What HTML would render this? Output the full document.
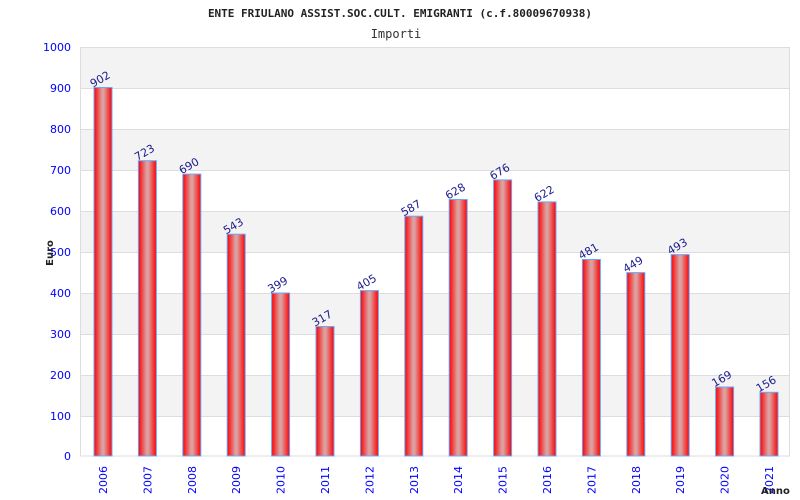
<!DOCTYPE html>
<html><head><style>body{margin:0;background:#fff}svg{display:block}</style></head><body>
<svg width="800" height="500" xmlns="http://www.w3.org/2000/svg" font-family="'DejaVu Sans','Liberation Sans',sans-serif">
<defs>
<linearGradient id="g" x1="0" x2="1" y1="0" y2="0">
<stop offset="0" stop-color="#ff0000"/><stop offset="0.45" stop-color="#dca0a0"/><stop offset="0.55" stop-color="#dca0a0"/><stop offset="1" stop-color="#ff0000"/>
</linearGradient>
</defs>
<text x="400" y="17" text-anchor="middle" font-family="'DejaVu Sans Mono','Liberation Mono',monospace" font-size="11" font-weight="bold" fill="#222">ENTE FRIULANO ASSIST.SOC.CULT. EMIGRANTI (c.f.80009670938)</text>
<text x="396" y="38" text-anchor="middle" font-family="'DejaVu Sans Mono','Liberation Mono',monospace" font-size="12" fill="#333">Importi</text>
<rect x="80.5" y="47.5" width="709" height="408.5" fill="#fff" stroke="#ddd"/>
<rect x="81" y="48" width="708" height="40.9" fill="#f3f3f3"/>
<rect x="81" y="129.8" width="708" height="40.9" fill="#f3f3f3"/>
<rect x="81" y="211.6" width="708" height="40.9" fill="#f3f3f3"/>
<rect x="81" y="293.4" width="708" height="40.9" fill="#f3f3f3"/>
<rect x="81" y="375.2" width="708" height="40.9" fill="#f3f3f3"/>
<g stroke="#ddd" stroke-width="1">
<line x1="80" x2="790" y1="88.5" y2="88.5"/><line x1="80" x2="790" y1="129.5" y2="129.5"/><line x1="80" x2="790" y1="170.5" y2="170.5"/><line x1="80" x2="790" y1="211.5" y2="211.5"/><line x1="80" x2="790" y1="252.5" y2="252.5"/><line x1="80" x2="790" y1="293.5" y2="293.5"/><line x1="80" x2="790" y1="334.5" y2="334.5"/><line x1="80" x2="790" y1="375.5" y2="375.5"/><line x1="80" x2="790" y1="416.5" y2="416.5"/>
</g>
<g font-size="11" fill="#0000ff" text-anchor="end">
<text x="71" y="51">1000</text><text x="71" y="92">900</text><text x="71" y="133">800</text><text x="71" y="174">700</text><text x="71" y="215">600</text><text x="71" y="256">500</text><text x="71" y="297">400</text><text x="71" y="338">300</text><text x="71" y="379">200</text><text x="71" y="420">100</text><text x="71" y="460">0</text>
</g>
<text transform="translate(53,253) rotate(-90)" text-anchor="middle" font-size="10" font-weight="bold" fill="#222">Euro</text>
<g stroke="#66a8ff" stroke-width="1" fill="url(#g)">
<rect x="94" y="87.5" width="18" height="368.5"/>
<rect x="138.4" y="160.7" width="18" height="295.3"/>
<rect x="182.8" y="174.1" width="18" height="281.9"/>
<rect x="227.2" y="234.2" width="18" height="221.8"/>
<rect x="271.6" y="293" width="18" height="163"/>
<rect x="316" y="326.5" width="18" height="129.5"/>
<rect x="360.4" y="290.6" width="18" height="165.4"/>
<rect x="404.8" y="216.2" width="18" height="239.8"/>
<rect x="449.2" y="199.5" width="18" height="256.5"/>
<rect x="493.6" y="179.9" width="18" height="276.1"/>
<rect x="538" y="201.9" width="18" height="254.1"/>
<rect x="582.4" y="259.5" width="18" height="196.5"/>
<rect x="626.8" y="272.6" width="18" height="183.4"/>
<rect x="671.2" y="254.6" width="18" height="201.4"/>
<rect x="715.6" y="387" width="18" height="69"/>
<rect x="760" y="392.3" width="18" height="63.7"/>
</g>
<g font-size="11" fill="#1a1a8c" text-anchor="middle">
<text transform="translate(102,82.5) rotate(-30)">902</text>
<text transform="translate(146.4,155.7) rotate(-30)">723</text>
<text transform="translate(190.8,169.1) rotate(-30)">690</text>
<text transform="translate(235.2,229.2) rotate(-30)">543</text>
<text transform="translate(279.6,288) rotate(-30)">399</text>
<text transform="translate(324,321.5) rotate(-30)">317</text>
<text transform="translate(368.4,285.6) rotate(-30)">405</text>
<text transform="translate(412.8,211.2) rotate(-30)">587</text>
<text transform="translate(457.2,194.5) rotate(-30)">628</text>
<text transform="translate(501.6,174.9) rotate(-30)">676</text>
<text transform="translate(546,196.9) rotate(-30)">622</text>
<text transform="translate(590.4,254.5) rotate(-30)">481</text>
<text transform="translate(634.8,267.6) rotate(-30)">449</text>
<text transform="translate(679.2,249.6) rotate(-30)">493</text>
<text transform="translate(723.6,382) rotate(-30)">169</text>
<text transform="translate(768,387.3) rotate(-30)">156</text>
</g>
<g font-size="11" fill="#0000ff">
<text transform="translate(107,494) rotate(-90)">2006</text>
<text transform="translate(151.4,494) rotate(-90)">2007</text>
<text transform="translate(195.8,494) rotate(-90)">2008</text>
<text transform="translate(240.2,494) rotate(-90)">2009</text>
<text transform="translate(284.6,494) rotate(-90)">2010</text>
<text transform="translate(329,494) rotate(-90)">2011</text>
<text transform="translate(373.4,494) rotate(-90)">2012</text>
<text transform="translate(417.8,494) rotate(-90)">2013</text>
<text transform="translate(462.2,494) rotate(-90)">2014</text>
<text transform="translate(506.6,494) rotate(-90)">2015</text>
<text transform="translate(551,494) rotate(-90)">2016</text>
<text transform="translate(595.4,494) rotate(-90)">2017</text>
<text transform="translate(639.8,494) rotate(-90)">2018</text>
<text transform="translate(684.2,494) rotate(-90)">2019</text>
<text transform="translate(728.6,494) rotate(-90)">2020</text>
<text transform="translate(773,494) rotate(-90)">2021</text>
</g>
<text x="761" y="494" font-size="10" font-weight="bold" fill="#222">Anno</text>
</svg>
</body></html>
